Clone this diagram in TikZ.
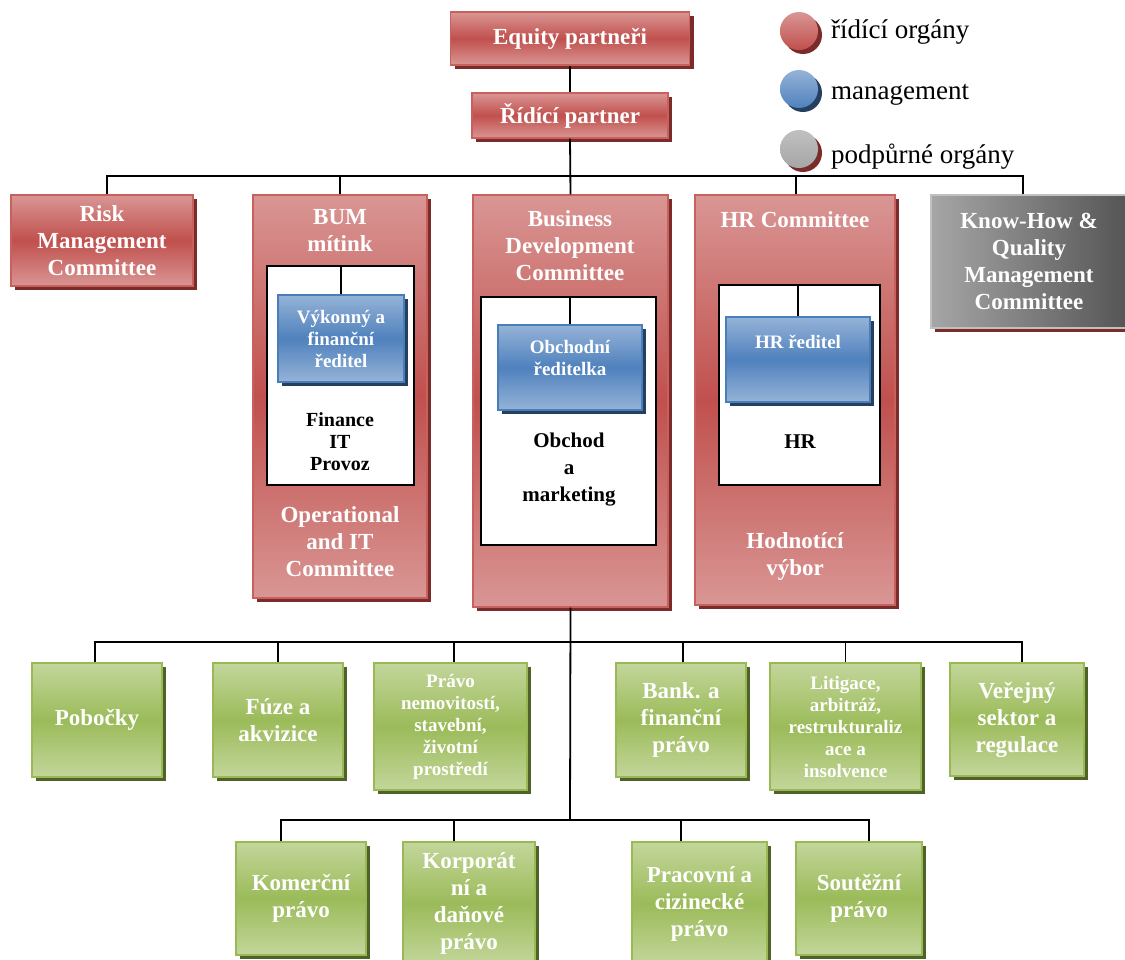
\documentclass[tikz,border=0pt]{standalone}
\usepackage{fontspec}
\setmainfont{Liberation Serif}
\usetikzlibrary{shadows}
\definecolor{redL}{HTML}{D99694}
\definecolor{redD}{HTML}{C0504D}
\definecolor{redS}{HTML}{7B2C2A}
\definecolor{redB}{HTML}{C8605D}
\definecolor{bluL}{HTML}{95B3D7}
\definecolor{bluD}{HTML}{4F81BD}
\definecolor{bluS}{HTML}{243F60}
\definecolor{bluB}{HTML}{4A7EBB}
\definecolor{grnL}{HTML}{C3D69B}
\definecolor{grnD}{HTML}{9BBB59}
\definecolor{grnS}{HTML}{4F6228}
\definecolor{grnB}{HTML}{98B954}
\definecolor{gryL}{HTML}{A6A6A6}
\definecolor{gryD}{HTML}{555555}
\definecolor{gryB}{HTML}{C0C0C0}
\newcommand\fBig{\fontsize{23}{27}\selectfont\bfseries}
\newcommand\fSmall{\fontsize{19}{22}\selectfont\bfseries}
\newcommand\fIn{\fontsize{20}{22}\selectfont\bfseries}
\newcommand\fInB{\fontsize{21}{27}\selectfont\bfseries}
\newcommand\fLeg{\fontsize{27}{30}\selectfont}
\begin{document}
\begin{tikzpicture}[x=1pt,y=-1pt,
  box/.style={rectangle, inner sep=0pt, align=center, line width=1.2pt},
  sh/.style={drop shadow={shadow xshift=4pt, shadow yshift=-4pt, fill=#1, opacity=1}},
  redbox/.style={box, draw=redB, top color=redL, bottom color=redL, middle color=redD, text=white, font=\fBig, sh=redS},
  graybox/.style={box, draw=gryB, left color=gryL, right color=gryD, text=white, font=\fBig, sh=redS},
  bluebox/.style={box, draw=bluB, top color=bluL, bottom color=bluL, middle color=bluD, text=white, font=\fSmall, sh=bluS},
  greenbox/.style={box, draw=grnB, top color=grnL, bottom color=grnL, middle color=grnD, text=white, font=\fBig, sh=grnS},
  inbox/.style={rectangle, inner sep=0pt, draw=black, line width=1.8pt, fill=white},
  wtext/.style={text=white, font=\fBig, align=center, inner sep=0pt},
  btext/.style={text=black, align=center, inner sep=0pt},
  conn/.style={line width=1.8pt, black},
  legdot/.style={circle, inner sep=0pt, minimum size=38pt}
]
\useasboundingbox (0,0) rectangle (1125,959);
\fill[white] (0,0) rectangle (1125,959);

% top
\node[redbox, minimum width=239pt, minimum height=53pt] (eq) at (570,38.5) {Equity partneři};
\node[redbox, minimum width=196pt, minimum height=45pt] (rp) at (570,115.5) {Řídící partner};

% legend
\node[legdot, top color=redL, bottom color=redD, sh=redS] (lg1) at (799,31) {};
\node[legdot, top color=bluL, bottom color=bluD, sh=bluS] (lg2) at (799,89) {};
\node[legdot, top color=gryB, bottom color=gryL, sh=redS] (lg3) at (799,149) {};
\node[anchor=west, font=\fLeg, inner sep=0pt] (lt1) at (831,32) {řídící orgány};
\node[anchor=west, font=\fLeg, inner sep=0pt] (lt2) at (831,95) {management};
\node[anchor=west, font=\fLeg, inner sep=0pt] (lt3) at (831,157) {podpůrné orgány};

% committees
\node[redbox, minimum width=182pt, minimum height=91pt] (risk) at (102,240.5) {Risk\\Management\\Committee};
\node[redbox, minimum width=174pt, minimum height=403pt] (bum) at (340,396.5) {};
\node[redbox, minimum width=195pt, minimum height=412pt] (bdc) at (570.5,401) {};
\node[redbox, minimum width=200pt, minimum height=410pt] (hrc) at (795,400) {};
\node[graybox, minimum width=196pt, minimum height=133pt] (kh) at (1029,261.5) {Know-How \&\\Quality\\Management\\Committee};

\node[wtext] (bumt) at (340,231) {BUM\\mítink};
\node[wtext] (bumb) at (340,542) {Operational\\and IT\\Committee};
\node[wtext] (bdct) at (570,246) {Business\\Development\\Committee};
\node[wtext] (hrct) at (795,220) {HR Committee};
\node[wtext] (hrcb) at (795,556) {Hodnotící\\výbor};

% inner boxes
\node[inbox, minimum width=147pt, minimum height=219pt] (bumin) at (340.5,375.5) {};
\node[inbox, minimum width=175pt, minimum height=248pt] (bdcin) at (568.5,421) {};
\node[inbox, minimum width=161pt, minimum height=200pt] (hrin) at (799.5,385) {};

\node[bluebox, minimum width=126pt, minimum height=87pt] (bumbl) at (341,338.5) {Výkonný a\\finanční\\ředitel};
\node[bluebox, minimum width=144pt, minimum height=85pt] (bdcbl) at (570,367.5) {};
\node[bluebox, minimum width=144pt, minimum height=85pt] (hrbl) at (798,359.5) {};
\node[wtext, font=\fSmall] (bdcblt) at (570,358) {Obchodní\\ředitelka};
\node[wtext, font=\fSmall] (hrblt) at (798,342) {HR ředitel};

\node[btext, font=\fIn] (bumtx) at (340,442) {Finance\\IT\\Provoz};
\node[btext, font=\fInB] (bdctx) at (569,470) {Obchod\\a\\marketing};
\node[btext, font=\fInB] (hrtx) at (800,442) {HR};

\draw[conn] (bumbl.north) -- (bumbl.north |- bumin.north);
\draw[conn] (bdcbl.north) -- (bdcbl.north |- bdcin.north);
\draw[conn] (hrbl.north) -- (hrbl.north |- hrin.north);

% top connectors
\coordinate (bus1) at (570,176);
\draw[conn] (eq.south) -- (rp.north);
\draw[conn] (rp.south) -- (bdc.north);
\draw[conn] ([xshift=5pt]risk.north) -- ([xshift=5pt]risk.north |- bus1) -- ([xshift=-6pt]kh.north |- bus1) -- ([xshift=-6pt]kh.north);
\draw[conn] (bum.north) -- (bum.north |- bus1);
\draw[conn] ([xshift=1pt]hrc.north) -- ([xshift=1pt]hrc.north |- bus1);

% green boxes
\node[greenbox, minimum width=130pt, minimum height=114pt] (pob) at (97,720) {Pobočky};
\node[greenbox, minimum width=130pt, minimum height=114pt] (fuz) at (278,720) {Fúze a\\akvizice};
\node[greenbox, font=\fSmall, minimum width=153pt, minimum height=127pt] (prv) at (450.5,726.5) {Právo\\nemovitostí,\\stavební,\\životní\\prostředí};
\node[greenbox, minimum width=130pt, minimum height=114pt] (bnk) at (681,720) {Bank. a\\finanční\\právo};
\node[greenbox, font=\fSmall, minimum width=151pt, minimum height=127pt] (lit) at (845.5,726.5) {Litigace,\\arbitráž,\\restrukturaliz\\ace a\\insolvence};
\node[greenbox, minimum width=134pt, minimum height=113pt] (ver) at (1017,719.5) {Veřejný\\sektor a\\regulace};

\node[greenbox, minimum width=130pt, minimum height=113pt] (kom) at (301,898.5) {Komerční\\právo};
\node[greenbox, minimum width=132pt, minimum height=123pt] (kor) at (469,903.5) {Korporát\\ní a\\daňové\\právo};
\node[greenbox, minimum width=135pt, minimum height=123pt] (pra) at (699.5,903.5) {Pracovní a\\cizinecké\\právo};
\node[greenbox, minimum width=126pt, minimum height=113pt] (sou) at (859,898.5) {Soutěžní\\právo};

\coordinate (bus2) at (570,642);
\coordinate (bus3) at (570,820);
\draw[conn] (bdc.south) -- (bus3);
\draw[conn] ([xshift=-2pt]pob.north) -- ([xshift=-2pt]pob.north |- bus2) -- ([xshift=5pt]ver.north |- bus2) -- ([xshift=5pt]ver.north);
\draw[conn] (fuz.north) -- (fuz.north |- bus2);
\draw[conn] ([xshift=3.5pt]prv.north) -- ([xshift=3.5pt]prv.north |- bus2);
\draw[conn] ([xshift=2pt]bnk.north) -- ([xshift=2pt]bnk.north |- bus2);
\draw[conn] (lit.north) -- (lit.north |- bus2);
\draw[conn] ([xshift=-20pt]kom.north) -- ([xshift=-20pt]kom.north |- bus3) -- ([xshift=10pt]sou.north |- bus3) -- ([xshift=10pt]sou.north);
\draw[conn] ([xshift=-15pt]kor.north) -- ([xshift=-15pt]kor.north |- bus3);
\draw[conn] ([xshift=-18.5pt]pra.north) -- ([xshift=-18.5pt]pra.north |- bus3);
\end{tikzpicture}
\end{document}
